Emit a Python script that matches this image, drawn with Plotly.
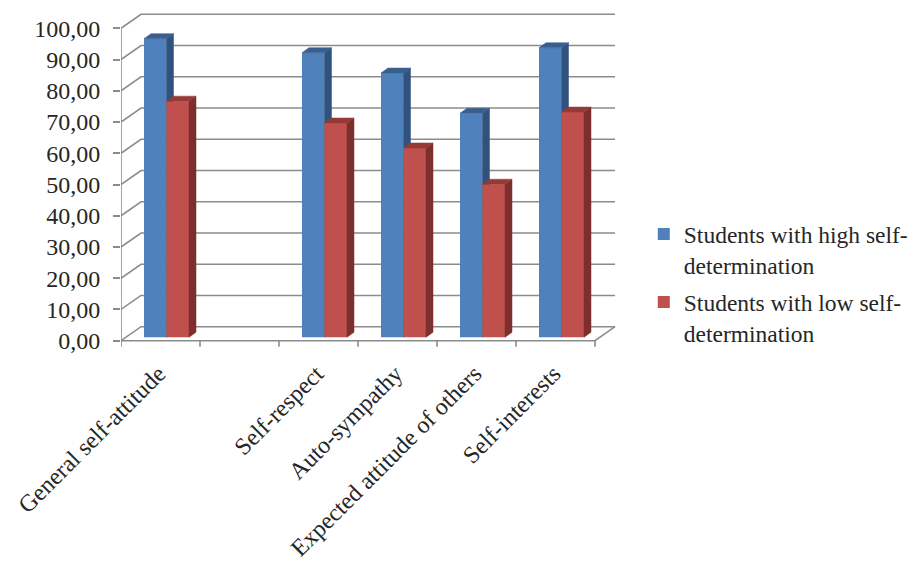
import plotly.graph_objects as go

categories = ["General self-attitude", "", "Self-respect", "Auto-sympathy",
              "Expected attitude of others", "Self-interests"]
high_values = [95.6, None, 91.1, 84.6, 71.7, 92.7]
low_values = [75.6, None, 68.6, 60.6, 49.0, 72.1]
y_ticks = [0, 10, 20, 30, 40, 50, 60, 70, 80, 90, 100]
series_names = ["Students with high self-<br>determination",
                "Students with low self-<br>determination"]

FONT = "Liberation Serif"
TEXT = "#262626"
GRID = "#8c8c8c"
PX_X = 79.0        # pixels per category
PX_Y = 3.124       # pixels per value unit
WALL_DX, WALL_DY = 20 / PX_X, 14 / PX_Y
BAR_DX, BAR_DY = 7 / PX_X, 5 / PX_Y
BAR_W = 22.5 / PX_X
BAR_SHIFT = 6 / PX_X
BAR_BASE = 3.4 / PX_Y
n = len(categories)


def line(xs, ys):
    return go.Scatter(x=xs, y=ys, mode="lines", line=dict(color=GRID, width=1.6),
                      showlegend=False, hoverinfo="skip", xaxis="x", yaxis="y")


def poly(xs, ys, color, axes):
    return go.Scatter(x=xs, y=ys, mode="lines", fill="toself", fillcolor=color,
                      line=dict(color=color, width=0.5), showlegend=False,
                      hoverinfo="skip", xaxis=axes[0], yaxis=axes[1])


def series(values, name, group, offset, front, side, top, axes):
    xs = [i + 0.5 + BAR_SHIFT + offset * BAR_W for i in range(n)]
    out = [go.Bar(x=xs, y=values, base=BAR_BASE, width=BAR_W, name=name, legendgroup=group,
                  marker=dict(color=front, line=dict(color=front, width=0)),
                  xaxis=axes[0], yaxis=axes[1])]
    for x, v in zip(xs, values):
        if v is None:
            continue
        l, r = x - BAR_W / 2, x + BAR_W / 2
        b, t = BAR_BASE, BAR_BASE + v
        out.append(poly([r, r + BAR_DX, r + BAR_DX, r, r],
                        [b, b + BAR_DY, t + BAR_DY, t, b], side, axes))
        out.append(poly([l, l + BAR_DX, r + BAR_DX, r, l],
                        [t, t + BAR_DY, t + BAR_DY, t, t], top, axes))
    return out


fig = go.Figure()
# back wall grid, side wall diagonals and floor
for v in y_ticks:
    fig.add_trace(line([0, WALL_DX, n + WALL_DX], [v, v + WALL_DY, v + WALL_DY]))
fig.add_trace(line([0, 0], [0, 100]))
fig.add_trace(line([0, n, n + WALL_DX], [0, 0, WALL_DY]))
for i in range(n + 1):
    fig.add_trace(line([i, i], [0, -6 / PX_Y]))

for t in series(high_values, series_names[0], "high", -0.5, "#4F81BD", "#30527F", "#385F8F", ("x2", "y2")):
    fig.add_trace(t)
for t in series(low_values, series_names[1], "low", 0.5, "#C0504D", "#7D2F2D", "#953A37", ("x3", "y3")):
    fig.add_trace(t)

x_range = [0, 519 / PX_X]
y_range = [-7.3 / PX_Y, 332.7 / PX_Y]
hidden = dict(range=x_range, visible=False, fixedrange=True)
hidden_y = dict(range=y_range, visible=False, fixedrange=True)
fig.update_layout(
    width=920, height=562, paper_bgcolor="white", plot_bgcolor="rgba(0,0,0,0)",
    margin=dict(l=113, r=288, t=0, b=222),
    separators=",.",
    barmode="overlay",
    font=dict(family=FONT, size=24, color=TEXT),
    xaxis=dict(range=x_range, showgrid=False, zeroline=False, showline=False, ticks="",
               tickmode="array", tickvals=[i + 0.5 for i in range(n)], ticktext=categories,
               tickangle=-45, ticklabelstandoff=6, ticklabelshift=-2,
               tickfont=dict(family=FONT, size=24, color=TEXT)),
    yaxis=dict(range=y_range, showgrid=False, zeroline=False, showline=False,
               tickmode="array", tickvals=y_ticks, tickformat=".2f", ticks="outside",
               ticklen=7, tickwidth=1.6, tickcolor=GRID, ticklabelstandoff=8,
               tickfont=dict(family=FONT, size=24, color=TEXT)),
    xaxis2=dict(overlaying="x", **hidden),
    yaxis2=dict(overlaying="y", **hidden_y),
    xaxis3=dict(overlaying="x", **hidden),
    yaxis3=dict(overlaying="y", **hidden_y),
    legend=dict(x=1.0073, y=0.189, xanchor="left", yanchor="middle", valign="top",
                font=dict(family=FONT, size=23.5, color=TEXT),
                tracegroupgap=4, itemwidth=30, bgcolor="rgba(0,0,0,0)"),
)
fig.write_html("out.html")
